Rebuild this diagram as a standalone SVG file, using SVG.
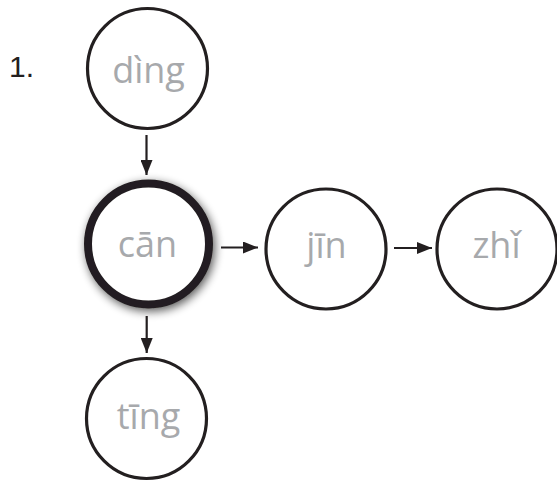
<svg xmlns="http://www.w3.org/2000/svg" width="557" height="481" viewBox="0 0 557 481">
<defs>
<marker id="ah" viewBox="0 0 15 12" refX="15" refY="6" markerWidth="15" markerHeight="12" markerUnits="userSpaceOnUse" orient="auto">
<path d="M0,0 L15,6 L0,12 Z" fill="#231f20"/>
</marker>
<filter id="glow" x="-30%" y="-30%" width="160%" height="160%">
<feGaussianBlur in="SourceAlpha" stdDeviation="5" result="b"/>
<feOffset in="b" dx="2" dy="3" result="o"/>
<feComponentTransfer in="o" result="s"><feFuncA type="linear" slope="0.65"/></feComponentTransfer>
<feMerge><feMergeNode in="s"/><feMergeNode in="SourceGraphic"/></feMerge>
</filter>
</defs>
<style>
.node{fill:#ffffff;stroke:#231f20;stroke-width:3.2}
.bold{stroke-width:8}
.lbl{font-family:"Open Sans","Noto Sans",sans-serif;font-size:36px;fill:#a7a9ac;text-anchor:middle}
.conn line{stroke:#231f20;stroke-width:2.2;marker-end:url(#ah)}
</style>
<rect width="557" height="481" fill="#ffffff"/>
<text x="9" y="77" font-family="Liberation Sans, Arial, sans-serif" font-size="30" fill="#231f20">1.</text>
<g id="node-ding"><circle class="node" cx="147.5" cy="68.5" r="60"/><text class="lbl" x="148.5" y="83">dìng</text></g>
<g id="node-can"><circle class="node bold" cx="148.5" cy="244" r="60.5" fill="none" filter="url(#glow)"/><text class="lbl" x="147.5" y="257">cān</text></g>
<g id="node-jin"><circle class="node" cx="326" cy="249" r="60"/><text class="lbl" x="326.5" y="258">jīn</text></g>
<g id="node-zhi"><circle class="node" cx="497" cy="249" r="60"/><text class="lbl" x="496.5" y="258">zhǐ</text></g>
<g id="node-ting"><circle class="node" cx="146.5" cy="418.5" r="60"/><text class="lbl" x="148.5" y="429">tīng</text></g>
<g id="connectors" class="conn">
<line x1="146.5" y1="135" x2="146.5" y2="175"/>
<line x1="146.7" y1="316" x2="146.7" y2="353"/>
<line x1="221" y1="247.5" x2="258" y2="247.5"/>
<line x1="394" y1="248" x2="432" y2="248"/>
</g>
</svg>
